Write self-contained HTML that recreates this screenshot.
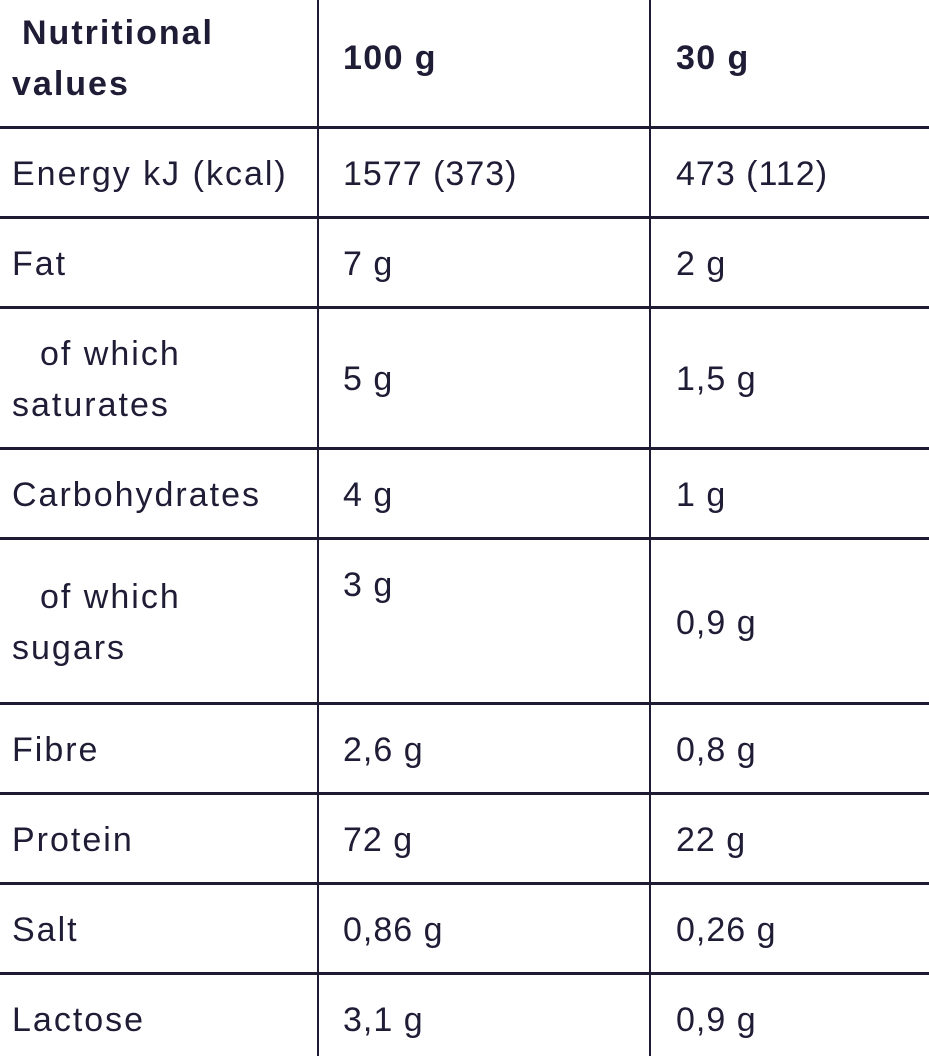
<!DOCTYPE html>
<html><head><style>
body{margin:0;width:929px;height:1056px;background:#fff;position:relative;overflow:hidden;font-family:"Liberation Sans",sans-serif;color:#1f1c36;}
.h{position:absolute;left:0;width:929px;height:3px;background:#1e1b33;}
.v{position:absolute;top:0;height:1056px;width:2px;background:#1e1b33;}
.t{position:absolute;font-size:34px;letter-spacing:2px;white-space:nowrap;line-height:1;margin-top:0;}
.n{letter-spacing:1px;}
.b{font-weight:bold;letter-spacing:2px;}
.bn{font-weight:bold;letter-spacing:1.4px;}
</style></head><body>
<div class="v" style="left:317px"></div>
<div class="v" style="left:649px"></div>
<div class="h" style="top:126px"></div>
<div class="h" style="top:216px"></div>
<div class="h" style="top:306px"></div>
<div class="h" style="top:447px"></div>
<div class="h" style="top:537px"></div>
<div class="h" style="top:702px"></div>
<div class="h" style="top:792px"></div>
<div class="h" style="top:882px"></div>
<div class="h" style="top:972px"></div>

<div class="t b" style="left:22px;top:16px">Nutritional</div>
<div class="t b" style="left:12px;top:67px">values</div>
<div class="t bn" style="left:343px;top:41px">100 g</div>
<div class="t bn" style="left:676px;top:41px">30 g</div>

<div class="t" style="left:12px;top:157px">Energy kJ (kcal)</div>
<div class="t n" style="left:343px;top:157px">1577 (373)</div>
<div class="t n" style="left:676px;top:157px">473 (112)</div>

<div class="t" style="left:12px;top:247px">Fat</div>
<div class="t n" style="left:343px;top:247px">7 g</div>
<div class="t n" style="left:676px;top:247px">2 g</div>

<div class="t" style="left:40px;top:337px">of which</div>
<div class="t" style="left:12px;top:388px">saturates</div>
<div class="t n" style="left:343px;top:362px">5 g</div>
<div class="t n" style="left:676px;top:362px">1,5 g</div>

<div class="t" style="left:12px;top:478px">Carbohydrates</div>
<div class="t n" style="left:343px;top:478px">4 g</div>
<div class="t n" style="left:676px;top:478px">1 g</div>

<div class="t" style="left:40px;top:580px">of which</div>
<div class="t" style="left:12px;top:631px">sugars</div>
<div class="t n" style="left:343px;top:568px">3 g</div>
<div class="t n" style="left:676px;top:606px">0,9 g</div>

<div class="t" style="left:12px;top:733px">Fibre</div>
<div class="t n" style="left:343px;top:733px">2,6 g</div>
<div class="t n" style="left:676px;top:733px">0,8 g</div>

<div class="t" style="left:12px;top:823px">Protein</div>
<div class="t n" style="left:343px;top:823px">72 g</div>
<div class="t n" style="left:676px;top:823px">22 g</div>

<div class="t" style="left:12px;top:913px">Salt</div>
<div class="t n" style="left:343px;top:913px">0,86 g</div>
<div class="t n" style="left:676px;top:913px">0,26 g</div>

<div class="t" style="left:12px;top:1003px">Lactose</div>
<div class="t n" style="left:343px;top:1003px">3,1 g</div>
<div class="t n" style="left:676px;top:1003px">0,9 g</div>
</body></html>
